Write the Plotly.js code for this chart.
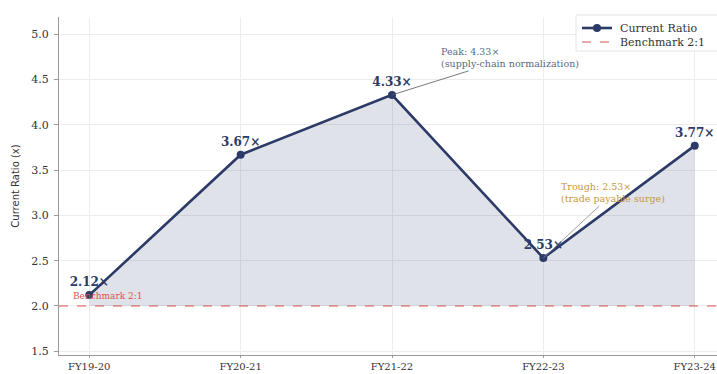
<!DOCTYPE html>
<html>
<head>
<meta charset="utf-8">
<script src="https://cdn.plot.ly/plotly-3.0.1.min.js"></script>
<style>
  html, body { margin: 0; padding: 0; overflow: hidden; background: #ffffff; }
  #chart { width: 735px; height: 391px; }
</style>
</head>
<body>
<div id="chart"></div>
<script>
// Fiscal years and current ratio per year
const years = ["FY19-20", "FY20-21", "FY21-22", "FY22-23", "FY23-24"];
const currentRatio = [2.12, 3.67, 4.33, 2.53, 3.77];
const benchmark = 2.0;
const valueLabels = currentRatio.map(v => v.toFixed(2) + "×");
const yTicks = [1.5, 2.0, 2.5, 3.0, 3.5, 4.0, 4.5, 5.0];
const legendNames = ["Current Ratio", "Benchmark 2:1"];

const navy = "#2b3a67";
const red = "#d9534f";
const serif = "DejaVu Serif, serif";

// plot-area geometry in pixels (used to place the hand-built legend)
const W = 735, H = 391;
const M = { l: 59, r: 10, t: 17, b: 36 };
const plotW = W - M.l - M.r, plotH = H - M.t - M.b;
const px = x => (x - M.l) / plotW;
const py = y => (H - M.b - y) / plotH;

const traces = [
  // invisible baseline so the shaded area stops at the benchmark level
  {
    x: years, y: years.map(() => benchmark),
    mode: "lines", line: { width: 0, color: "rgba(0,0,0,0)" },
    showlegend: false, hoverinfo: "skip"
  },
  {
    x: years, y: currentRatio,
    name: legendNames[0],
    mode: "lines+markers+text",
    fill: "tonexty", fillcolor: "rgba(43,58,103,0.15)",
    line: { color: navy, width: 2.6 },
    marker: { color: navy, size: 8 },
    text: valueLabels, textposition: "top center",
    textfont: { family: serif, size: 12, color: navy, weight: "bold" },
    showlegend: false
  }
];

const shapes = [
  // benchmark line across the full width
  {
    type: "line", xref: "paper", yref: "y", x0: 0, x1: 1, y0: benchmark, y1: benchmark,
    line: { color: red, width: 1.2, dash: "dash" }, layer: "above"
  },
  // legend frame
  {
    type: "rect", xref: "paper", yref: "paper",
    x0: px(576), x1: px(730), y0: py(51), y1: py(15),
    line: { color: "#e2e2e2", width: 1 }, fillcolor: "rgba(255,255,255,0.9)", layer: "above"
  },
  {
    type: "line", xref: "paper", yref: "paper",
    x0: px(582), x1: px(612), y0: py(28), y1: py(28),
    line: { color: navy, width: 2.6 }, layer: "above"
  },
  {
    type: "circle", xref: "paper", yref: "paper",
    xsizemode: "pixel", ysizemode: "pixel",
    xanchor: px(597), yanchor: py(28),
    x0: -4, x1: 4, y0: -4, y1: 4,
    line: { color: navy, width: 0 }, fillcolor: navy, layer: "above"
  },
  {
    type: "line", xref: "paper", yref: "paper",
    x0: px(582), x1: px(612), y0: py(42), y1: py(42),
    line: { color: red, width: 1.2, dash: "dash" }, layer: "above"
  }
];

const annotations = [
  {
    x: 2, y: currentRatio[2], xref: "x", yref: "y",
    text: "Peak: " + valueLabels[2] + "<br>(supply-chain normalization)",
    align: "left", showarrow: true, arrowhead: 0, arrowwidth: 0.8, arrowcolor: "#555555",
    ax: 118, ay: -37,
    font: { family: serif, size: 9.5, color: "#5a6a85" }
  },
  {
    x: 3, y: currentRatio[3], xref: "x", yref: "y",
    text: "Trough: " + valueLabels[3] + "<br>(trade payable surge)",
    align: "left", showarrow: true, arrowhead: 0, arrowwidth: 0.8, arrowcolor: "#888888",
    ax: 70, ay: -65,
    font: { family: serif, size: 9.5, color: "#c8963e" }
  },
  {
    x: -0.12, y: benchmark, xref: "x", yref: "y",
    text: "Benchmark 2:1", xanchor: "left", yanchor: "bottom", yshift: 3,
    showarrow: false,
    font: { family: serif, size: 9, color: red }
  },
  {
    x: px(618), y: py(28), xref: "paper", yref: "paper",
    text: legendNames[0], xanchor: "left", yanchor: "middle", showarrow: false,
    font: { family: serif, size: 11, color: "#333333" }
  },
  {
    x: px(618), y: py(42), xref: "paper", yref: "paper",
    text: legendNames[1], xanchor: "left", yanchor: "middle", showarrow: false,
    font: { family: serif, size: 11, color: "#333333" }
  }
];

const layout = {
  width: W, height: H,
  margin: M,
  paper_bgcolor: "#ffffff", plot_bgcolor: "#ffffff",
  font: { family: serif, size: 11, color: "#333333" },
  showlegend: false,
  xaxis: {
    type: "category",
    range: [-0.2, 4.2],
    showgrid: true, gridcolor: "#ececec", gridwidth: 1,
    showline: true, linecolor: "#999999", linewidth: 1,
    ticks: "outside", ticklen: 2, tickcolor: "#999999",
    tickfont: { family: serif, size: 10, color: "#333333" },
    ticklabelstandoff: 0,
    zeroline: false
  },
  yaxis: {
    range: [1.459, 5.19],
    tickvals: yTicks,
    ticktext: yTicks.map(v => v.toFixed(1)),
    showgrid: true, gridcolor: "#ececec", gridwidth: 1,
    showline: true, linecolor: "#999999", linewidth: 1,
    ticks: "outside", ticklen: 4, tickcolor: "#999999",
    tickfont: { family: serif, size: 11, color: "#333333" },
    ticklabelstandoff: 3,
    zeroline: false,
    title: { text: "Current Ratio (x)", font: { family: "DejaVu Sans, sans-serif", size: 10, color: "#333333" }, standoff: 9 }
  },
  shapes: shapes,
  annotations: annotations
};

Plotly.newPlot("chart", traces, layout, { displayModeBar: false, staticPlot: true });
</script>
</body>
</html>
